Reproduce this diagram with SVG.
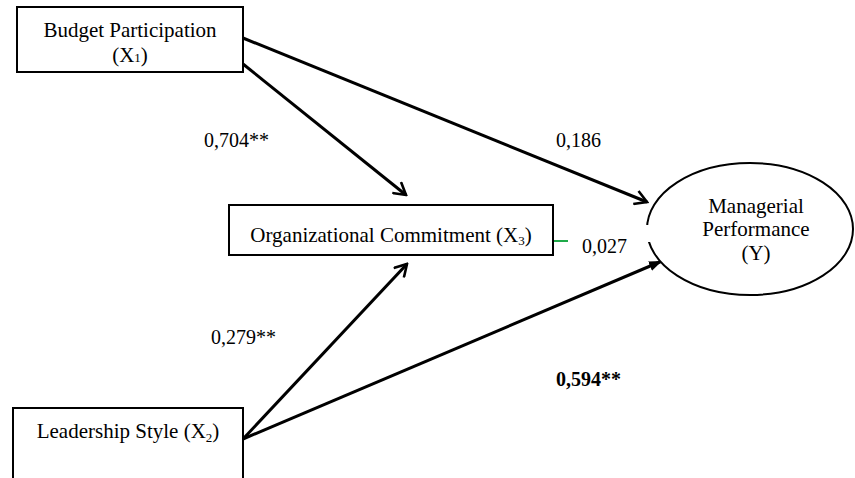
<svg xmlns="http://www.w3.org/2000/svg" width="855" height="478" viewBox="0 0 855 478">
<style>
  .box { fill: #fff; stroke: #000; stroke-width: 2; }
  .lbl { font-family: "Liberation Serif", "Times New Roman", serif; font-size: 21px; fill: #000; text-anchor: middle; }
  .num { font-family: "Liberation Serif", "Times New Roman", serif; font-size: 20px; fill: #000; }
  .sub { font-size: 13px; }
  .edge { stroke: #000; stroke-width: 3; fill: none; }
</style>
<defs>
  <marker id="open" viewBox="0 0 16 16" refX="14" refY="8" markerWidth="16" markerHeight="16" markerUnits="userSpaceOnUse" orient="auto">
    <path d="M2,1 L14,8 L2,15" fill="none" stroke="#000" stroke-width="2.6"/>
  </marker>
  <marker id="solid" viewBox="0 0 14 12" refX="13" refY="6" markerWidth="14" markerHeight="12" markerUnits="userSpaceOnUse" orient="auto">
    <path d="M0,1 L13,6 L0,11 Z" fill="#000"/>
  </marker>
</defs>

<g id="connectors">
  <line class="edge" x1="243" y1="38" x2="647" y2="202" marker-end="url(#open)"/>
  <line class="edge" x1="243" y1="64" x2="406" y2="195" marker-end="url(#open)"/>
  <line class="edge" x1="243" y1="439" x2="407" y2="264" marker-end="url(#open)"/>
  <line class="edge" x1="243" y1="439" x2="662" y2="261" marker-end="url(#solid)"/>
  <line x1="553" y1="241" x2="568" y2="241" stroke="#1faa4a" stroke-width="2"/>
</g>

<g id="node-budget">
  <rect class="box" x="17" y="7" width="226" height="65"/>
  <text class="lbl" x="130" y="37">Budget Participation</text>
  <text class="lbl" x="130" y="62">(X<tspan class="sub">1</tspan>)</text>
</g>

<g id="node-commitment">
  <rect class="box" x="229" y="205" width="324" height="50"/>
  <text class="lbl" x="391" y="242">Organizational Commitment (X<tspan class="sub" dy="3">3</tspan><tspan dy="-3">)</tspan></text>
</g>

<g id="node-leadership">
  <rect class="box" x="13" y="408" width="230" height="90"/>
  <text class="lbl" x="128" y="438">Leadership Style (X<tspan class="sub" dy="4">2</tspan><tspan dy="-4">)</tspan></text>
</g>

<g id="node-performance">
  <ellipse class="box" cx="750" cy="229" rx="103" ry="66"/>
  <text class="lbl" x="756" y="213">Managerial</text>
  <text class="lbl" x="756" y="236">Performance</text>
  <text class="lbl" x="756" y="260">(Y)</text>
</g>

<g id="labels">
  <rect x="640" y="225" width="14" height="17" fill="#fff"/>
  <text class="num" x="204" y="147">0,704**</text>
  <text class="num" x="556" y="147">0,186</text>
  <text class="num" x="582" y="253">0,027</text>
  <text class="num" x="211" y="344">0,279**</text>
  <text class="num" x="556" y="386" font-weight="bold">0,594**</text>
</g>
</svg>
